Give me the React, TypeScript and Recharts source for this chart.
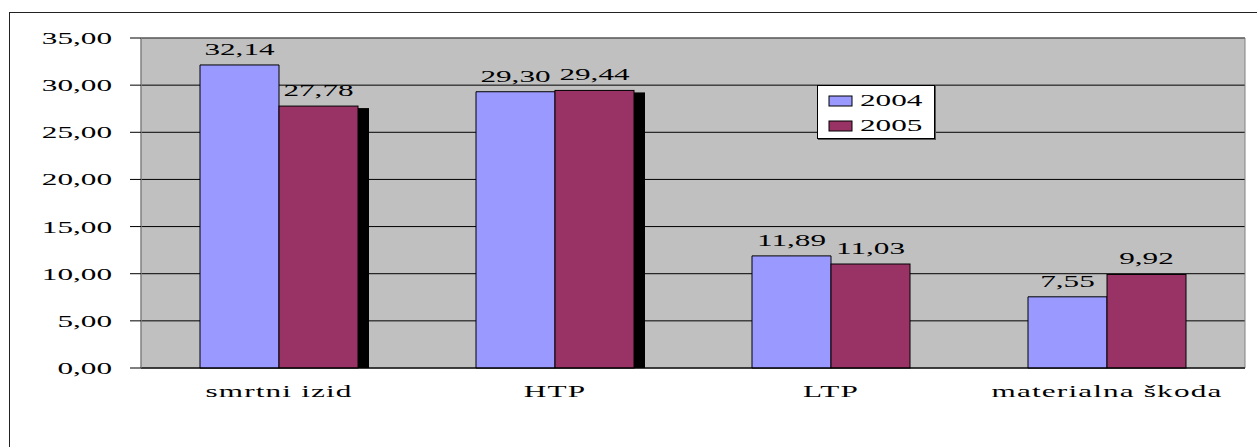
import React from 'react';
import {
  BarChart, Bar, XAxis, YAxis, CartesianGrid, Legend, LabelList, ReferenceArea,
} from 'recharts';

const CATEGORIES = ['smrtni izid', 'HTP', 'LTP', 'materialna škoda'];
const Y2004 = [32.14, 29.3, 11.89, 7.55];
const Y2005 = [27.78, 29.44, 11.03, 9.92];
const Y_TICKS = [0, 5, 10, 15, 20, 25, 30, 35];
const SERIES = ['2004', '2005'];

const data = CATEGORIES.map((name, i) => ({ name, idx: i + 0.5, y2004: Y2004[i], y2005: Y2005[i] }));

const COL_2004 = '#9999FF';
const COL_2005 = '#993366';
const FONT = '"Liberation Serif", "Times New Roman", serif';
const SX = 1.95; // the original picture is stretched sideways

const fmt = (v: number) => v.toFixed(2).replace('.', ',');

function Stretched({ x, y, anchor = 'middle', children, spacing = 0 }: any) {
  return (
    <text
      transform={`translate(${x},${y}) scale(${SX},1)`}
      textAnchor={anchor}
      fontFamily={FONT}
      fontSize={16}
      letterSpacing={spacing}
      fill="#000"
    >
      {children}
    </text>
  );
}

const YTick = ({ x, y, payload }: any) => (
  <Stretched x={x} y={y + 6} anchor="end">{fmt(payload.value)}</Stretched>
);

const XTick = ({ x, y, payload }: any) => (
  <Stretched x={x} y={y + 29} spacing={0.6}>{payload.value}</Stretched>
);

const ValueLabel = ({ x, y, width, value }: any) => (
  <Stretched x={x + width / 2} y={y - 10}>{fmt(value)}</Stretched>
);

// 2005 bars in the first two groups carry a black drop shadow on their right side
const ShadowBar = (props: any) => {
  const { x, y, width, height, index } = props;
  return (
    <g>
      {index < 2 && <rect x={x + width} y={y + 2} width={11} height={height - 2} fill="#000" />}
      <rect x={x} y={y} width={width} height={height} fill={COL_2005} stroke="#000" strokeWidth={1} />
    </g>
  );
};

const LegendBox = () => (
  <div style={{ width: 118, height: 54, background: '#fff', border: '1px solid #000', boxShadow: '1px 1px 0 #555', boxSizing: 'border-box' }}>
    <svg width={116} height={52} style={{ display: 'block' }}>
      {SERIES.map((s, i) => (
        <g key={s}>
          <rect x={11} y={10 + i * 25} width={23} height={10} fill={i === 0 ? COL_2004 : COL_2005} stroke="#000" />
          <Stretched x={42} y={20 + i * 25} anchor="start">{s}</Stretched>
        </g>
      ))}
    </svg>
  </div>
);

export default function App() {
  return (
    <div style={{ position: 'absolute', left: 0, top: 0, width: 1257, height: 447, overflow: 'hidden', background: '#fff' }}>
      <div style={{ position: 'absolute', left: 9, top: 12, width: 1400, height: 600, border: '1px solid #222' }} />
      <div style={{ position: 'absolute', left: 0, top: 0 }}>
        <BarChart
          width={1257}
          height={447}
          data={data}
          margin={{ top: 38, right: 12, bottom: 0, left: 0 }}
          barGap={0}
          barSize={79}
        >
          <CartesianGrid vertical={false} stroke="#000" fill="#C0C0C0" fillOpacity={1} />
          <ReferenceArea y1={0} y2={35} fill="none" stroke="#808080" strokeWidth={1} />
          <XAxis
            xAxisId="bounds"
            type="number"
            dataKey="idx"
            domain={[0, 4]}
            ticks={[0, 1, 2, 3, 4]}
            height={0}
            tick={false}
            tickSize={5}
            tickLine={{ stroke: '#000' }}
            axisLine={false}
          />
          <XAxis
            dataKey="name"
            height={79}
            tickLine={false}
            tickSize={0}
            tickMargin={0}
            axisLine={{ stroke: '#000' }}
            tick={<XTick />}
            interval={0}
          />
          <YAxis
            width={141}
            domain={[0, 35]}
            ticks={Y_TICKS}
            interval={0}
            tickSize={11}
            tickMargin={18}
            tickLine={{ stroke: '#000' }}
            axisLine={{ stroke: '#808080' }}
            tick={<YTick />}
          />
          <Legend
            layout="horizontal"
            verticalAlign="middle"
            align="center"
            wrapperStyle={{ left: 817, top: 85, width: 118, height: 54, right: 'auto', bottom: 'auto' }}
            content={<LegendBox />}
          />
          <Bar dataKey="y2004" name="2004" fill={COL_2004} stroke="#000" strokeWidth={1} isAnimationActive={false}>
            <LabelList dataKey="y2004" content={<ValueLabel />} />
          </Bar>
          <Bar dataKey="y2005" name="2005" fill={COL_2005} shape={<ShadowBar />} isAnimationActive={false}>
            <LabelList dataKey="y2005" content={<ValueLabel />} />
          </Bar>
        </BarChart>
      </div>
    </div>
  );
}
